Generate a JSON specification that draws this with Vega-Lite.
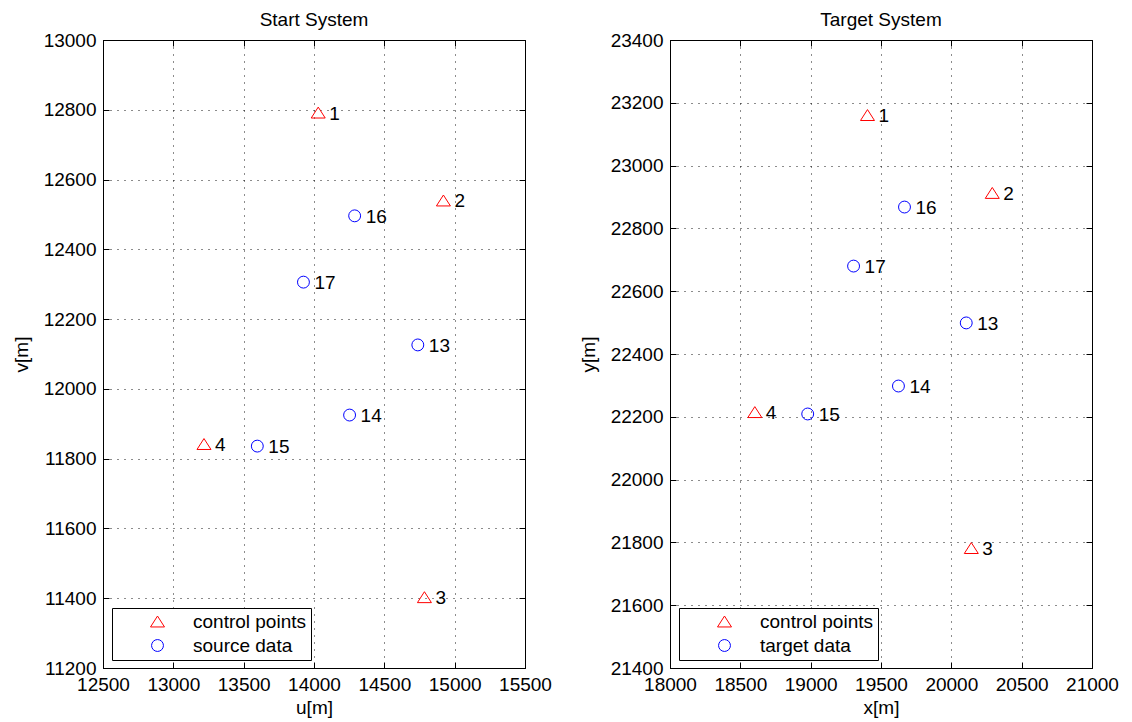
{
  "$schema": "https://vega.github.io/schema/vega-lite/v6.json",
  "background": "white",
  "padding": {"left": 11, "top": 10, "right": 10, "bottom": 5},
  "spacing": 26,
  "datasets": {
    "start": [
      {"id": "1", "kind": "control points", "u": 14030, "v": 12792},
      {"id": "2", "kind": "control points", "u": 14920, "v": 12540},
      {"id": "3", "kind": "control points", "u": 14785, "v": 11403},
      {"id": "4", "kind": "control points", "u": 13218, "v": 11842},
      {"id": "13", "kind": "source data", "u": 14738, "v": 12126},
      {"id": "14", "kind": "source data", "u": 14253, "v": 11925},
      {"id": "15", "kind": "source data", "u": 13597, "v": 11836},
      {"id": "16", "kind": "source data", "u": 14289, "v": 12496},
      {"id": "17", "kind": "source data", "u": 13925, "v": 12306}
    ],
    "target": [
      {"id": "1", "kind": "control points", "x": 19404, "y": 23161},
      {"id": "2", "kind": "control points", "x": 20291, "y": 22913},
      {"id": "3", "kind": "control points", "x": 20142, "y": 21782},
      {"id": "4", "kind": "control points", "x": 18603, "y": 22215},
      {"id": "13", "kind": "target data", "x": 20106, "y": 22499},
      {"id": "14", "kind": "target data", "x": 19624, "y": 22298},
      {"id": "15", "kind": "target data", "x": 18979, "y": 22209},
      {"id": "16", "kind": "target data", "x": 19667, "y": 22868},
      {"id": "17", "kind": "target data", "x": 19305, "y": 22680}
    ]
  },
  "config": {
    "font": "Liberation Sans",
    "view": {"stroke": "black", "strokeWidth": 1},
    "title": {"fontSize": 19, "fontWeight": "normal", "color": "black", "font": "Liberation Sans", "offset": 1},
    "axis": {
      "labelFont": "Liberation Sans",
      "titleFont": "Liberation Sans",
      "labelFontSize": 19,
      "titleFontSize": 19,
      "titleFontWeight": "normal",
      "labelColor": "black",
      "titleColor": "black",
      "domainColor": "black",
      "tickColor": "black",
      "gridColor": "black",
      "gridDash": [1, 6],
      "gridOpacity": 0.9,
      "labelFlush": false,
      "labelOverlap": false,
      "format": "d",
      "tickSize": -6,
      "labelPadding": 13
    },
    "legend": {
      "orient": "none",
      "legendX": 9,
      "legendY": 568,
      "title": null,
      "strokeColor": "black",
      "fillColor": "white",
      "padding": 4,
      "labelFont": "Liberation Sans",
      "labelFontSize": 19,
      "labelColor": "black",
      "symbolSize": 196,
      "symbolStrokeWidth": 1,
      "symbolOffset": 32,
      "labelOffset": 26,
      "rowPadding": 4
    }
  },
  "hconcat": [
    {
      "title": "Start System",
      "width": 422,
      "height": 628,
      "data": {"name": "start"},
      "layer": [
        {
          "mark": {"type": "point", "filled": false, "size": 196, "strokeWidth": 1, "opacity": 1},
          "encoding": {
            "x": {"field": "u", "type": "quantitative", "title": "u[m]",
              "scale": {"domain": [12500, 15500], "nice": false, "zero": false},
              "axis": {"values": [12500, 13000, 13500, 14000, 14500, 15000, 15500], "titlePadding": 4}},
            "y": {"field": "v", "type": "quantitative", "title": "v[m]",
              "scale": {"domain": [11200, 13000], "nice": false, "zero": false},
              "axis": {"values": [11200, 11400, 11600, 11800, 12000, 12200, 12400, 12600, 12800, 13000], "titlePadding": 12}},
            "shape": {"field": "kind", "type": "nominal",
              "scale": {"domain": ["control points", "source data"],
                "range": ["M0,-0.78L-1,0.78L1,0.78Z", "M-0.85,0A0.85,0.85 0 1,0 0.85,0A0.85,0.85 0 1,0 -0.85,0Z"]}},
            "color": {"field": "kind", "type": "nominal",
              "scale": {"domain": ["control points", "source data"], "range": ["#ff0000", "#0000ff"]}}
          }
        },
        {
          "mark": {"type": "text", "align": "left", "baseline": "alphabetic", "dx": 11, "dy": 7, "fontSize": 19, "color": "black"},
          "encoding": {
            "x": {"field": "u", "type": "quantitative",
              "axis": {"orient": "top", "labels": false, "grid": false, "domain": false, "title": null, "values": [12500, 13000, 13500, 14000, 14500, 15000, 15500]}},
            "y": {"field": "v", "type": "quantitative",
              "axis": {"orient": "right", "labels": false, "grid": false, "domain": false, "title": null, "values": [11200, 11400, 11600, 11800, 12000, 12200, 12400, 12600, 12800, 13000]}},
            "text": {"field": "id"}
          }
        }
      ],
      "resolve": {"axis": {"x": "independent", "y": "independent"}}
    },
    {
      "title": "Target System",
      "width": 422,
      "height": 628,
      "data": {"name": "target"},
      "layer": [
        {
          "mark": {"type": "point", "filled": false, "size": 196, "strokeWidth": 1, "opacity": 1},
          "encoding": {
            "x": {"field": "x", "type": "quantitative", "title": "x[m]",
              "scale": {"domain": [18000, 21000], "nice": false, "zero": false},
              "axis": {"values": [18000, 18500, 19000, 19500, 20000, 20500, 21000], "titlePadding": 4}},
            "y": {"field": "y", "type": "quantitative", "title": "y[m]",
              "scale": {"domain": [21400, 23400], "nice": false, "zero": false},
              "axis": {"values": [21400, 21600, 21800, 22000, 22200, 22400, 22600, 22800, 23000, 23200, 23400], "titlePadding": 12}},
            "shape": {"field": "kind", "type": "nominal",
              "scale": {"domain": ["control points", "target data"],
                "range": ["M0,-0.78L-1,0.78L1,0.78Z", "M-0.85,0A0.85,0.85 0 1,0 0.85,0A0.85,0.85 0 1,0 -0.85,0Z"]}},
            "color": {"field": "kind", "type": "nominal",
              "scale": {"domain": ["control points", "target data"], "range": ["#ff0000", "#0000ff"]}}
          }
        },
        {
          "mark": {"type": "text", "align": "left", "baseline": "alphabetic", "dx": 11, "dy": 7, "fontSize": 19, "color": "black"},
          "encoding": {
            "x": {"field": "x", "type": "quantitative",
              "axis": {"orient": "top", "labels": false, "grid": false, "domain": false, "title": null, "values": [18000, 18500, 19000, 19500, 20000, 20500, 21000]}},
            "y": {"field": "y", "type": "quantitative",
              "axis": {"orient": "right", "labels": false, "grid": false, "domain": false, "title": null, "values": [21400, 21600, 21800, 22000, 22200, 22400, 22600, 22800, 23000, 23200, 23400]}},
            "text": {"field": "id"}
          }
        }
      ],
      "resolve": {"axis": {"x": "independent", "y": "independent"}}
    }
  ],
  "resolve": {"scale": {"shape": "independent", "color": "independent", "x": "independent", "y": "independent"}, "legend": {"shape": "independent", "color": "independent"}}
}
